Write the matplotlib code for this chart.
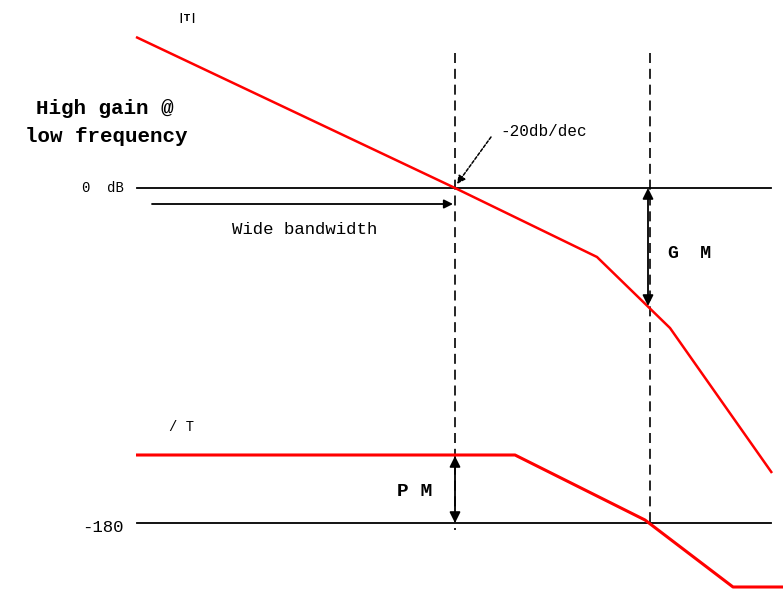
import matplotlib
matplotlib.use('Agg')
import matplotlib.pyplot as plt

# --- Diagram data (sketch units: x to the right, y downwards, 783 x 591) ---

# Magnitude |T| asymptotes
MAG_X = [136, 455, 597, 670, 772]
MAG_Y = [37, 188, 257, 328, 473]

# Phase /T asymptotes
PHASE_X = [136, 515, 645, 733, 783]
PHASE_Y = [455, 455, 520, 587, 587]

# Reference levels
ZERO_DB_Y = 188
MINUS_180_Y = 523
LEVEL_X = [137, 771]

# Crossover frequencies (gain crossover, phase crossover)
CROSS_X = [455, 650]
CROSS_TOP = 53
CROSS_BOTTOM = [530, 523]

# Margins
GM_X, GM_TOP, GM_BOTTOM = 648, 188, 306
PM_X, PM_TOP, PM_BOTTOM = 455, 456, 523

FONT = 'Liberation Mono'

fig = plt.figure(figsize=(7.83, 5.91), dpi=100)
ax = fig.add_axes([0, 0, 1, 1])
ax.set_xlim(0, 783)
ax.set_ylim(591, 0)
ax.axis('off')

# Reference lines
ax.plot(LEVEL_X, [ZERO_DB_Y, ZERO_DB_Y], color='black', lw=1.3)
ax.plot(LEVEL_X, [MINUS_180_Y, MINUS_180_Y], color='black', lw=1.3)

# Dashed crossover lines
for x, yb in zip(CROSS_X, CROSS_BOTTOM):
    ax.plot([x, x], [CROSS_TOP, yb], color='black', lw=1.2,
            linestyle=(0, (6, 3.5)))

# Curves
ax.plot(MAG_X, MAG_Y, color='#ff0000', lw=1.8, solid_capstyle='butt')
ax.plot(PHASE_X, PHASE_Y, color='#ff0000', lw=2.2, solid_capstyle='butt')

# Gain margin / phase margin double arrows
head = dict(arrowstyle='<|-|>', color='black', lw=1.3, mutation_scale=16,
            shrinkA=0, shrinkB=0)
ax.annotate('', xy=(GM_X, GM_TOP), xytext=(GM_X, GM_BOTTOM), arrowprops=head)
ax.annotate('', xy=(PM_X, PM_TOP), xytext=(PM_X, PM_BOTTOM), arrowprops=head)

# Wide bandwidth arrow
ax.annotate('', xy=(453, 204), xytext=(152, 204),
            arrowprops=dict(arrowstyle='-|>', color='black', lw=1.3,
                            mutation_scale=13, shrinkA=0, shrinkB=0))

# -20db/dec pointer
ax.annotate('', xy=(457, 184), xytext=(491, 137),
            arrowprops=dict(arrowstyle='-|>', color='black', lw=1.1,
                            linestyle=(0, (2, 1.2)), mutation_scale=12,
                            shrinkA=0, shrinkB=0))

# Labels
ax.text(187, 18, '|T|', fontsize=8, family=FONT, weight='bold',
        ha='center', va='center')
ax.text(105, 109, 'High gain @', fontsize=15, family=FONT, weight='bold',
        ha='center', va='center')
ax.text(106, 136, 'low frequency', fontsize=15, family=FONT, weight='bold',
        ha='center', va='center')
ax.text(103, 188, '0  dB', fontsize=10, family=FONT, ha='center', va='center')
ax.text(103, 527, '-180', fontsize=12.5, family=FONT, ha='center', va='center')
ax.text(305, 229, 'Wide bandwidth', fontsize=12.5, family=FONT,
        ha='center', va='center')
ax.text(544, 131, '-20db/dec', fontsize=11.5, family=FONT,
        ha='center', va='center')
ax.text(690, 253, 'G  M', fontsize=13, family=FONT, weight='bold',
        ha='center', va='center')
ax.text(415, 491, 'P M', fontsize=14, family=FONT, weight='bold',
        ha='center', va='center')
ax.text(182, 427, '/ T', fontsize=10, family=FONT, ha='center', va='center')

fig.savefig('out.png', dpi=100)
